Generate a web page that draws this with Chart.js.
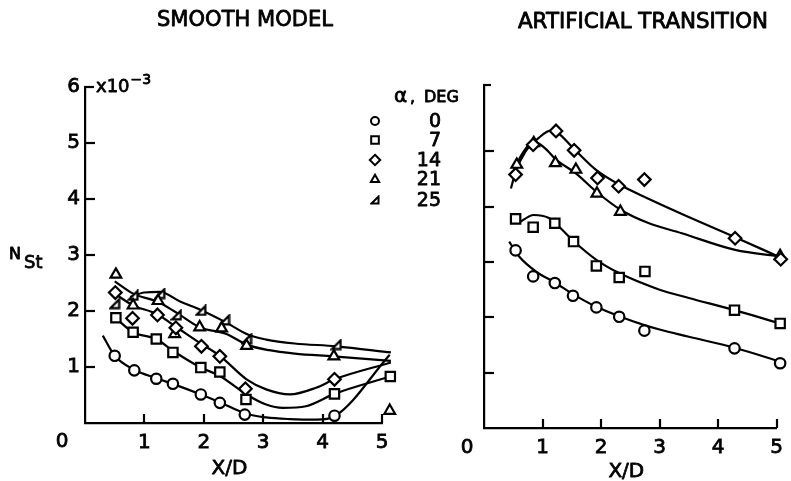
<!DOCTYPE html>
<html>
<head>
<meta charset="utf-8">
<script src="https://cdn.jsdelivr.net/npm/chart.js@4/dist/chart.umd.min.js"></script>
<style>
html,body{margin:0;padding:0;background:#fff;}
#wrap{position:relative;width:791px;height:481px;overflow:hidden;background:#fff;}
canvas{position:absolute;left:0;top:0;}
</style>
</head>
<body>
<div id="wrap">
<canvas id="left" width="791" height="481"></canvas>
<canvas id="right" width="791" height="481"></canvas>
</div>
<script>
// ---------- tick labels & legend ----------
const xTickLabels = ['1', '2', '3', '4', '5'];
const yTickLabels = ['1', '2', '3', '4', '5', '6'];
const alphaDeg = ['0', '7', '14', '21', '25'];
const panelTitles = ['SMOOTH MODEL', 'ARTIFICIAL TRANSITION'];

// ---------- SMOOTH MODEL: measured points (x/D, N_St x1e3) ----------
const smoothA0X  = [0.50, 0.83, 1.20, 1.48, 1.95, 2.27, 2.69, 4.20, 5.15];
const smoothA0Y  = [1.20, 0.94, 0.79, 0.70, 0.51, 0.36, 0.15, 0.13, 1.23];
const smoothA7X  = [0.52, 0.81, 1.20, 1.48, 1.95, 2.27, 2.71, 4.20, 5.14];
const smoothA7Y  = [1.88, 1.62, 1.50, 1.26, 0.99, 0.91, 0.42, 0.52, 0.83];
const smoothA14X = [0.51, 0.80, 1.22, 1.53, 1.96, 2.27, 2.70, 4.20, 5.16];
const smoothA14Y = [2.33, 1.87, 1.93, 1.70, 1.37, 1.19, 0.61, 0.78, 1.08];
const smoothA21X = [0.52, 0.81, 1.23, 1.51, 1.93, 2.30, 2.72, 4.19, 5.13];
const smoothA21Y = [2.65, 2.10, 2.18, 1.59, 1.71, 1.69, 1.38, 1.19, 0.22];
const smoothA25X = [0.50, 0.81, 1.26, 1.54, 1.95, 2.35, 2.72, 4.23];
const smoothA25Y = [2.13, 2.28, 2.31, 1.93, 2.01, 1.84, 1.50, 1.40];

// ---------- SMOOTH MODEL: faired curves ----------
const smoothCurve0X  = [0.30, 0.50, 0.83, 1.20, 1.50, 1.95, 2.27, 2.70, 3.05, 3.45, 3.90, 4.20, 5.13];
const smoothCurve0Y  = [1.56, 1.20, 0.95, 0.80, 0.69, 0.51, 0.37, 0.17, 0.10, 0.07, 0.06, 0.12, 1.22];
const smoothCurve7X  = [0.53, 0.81, 1.20, 1.48, 1.95, 2.27, 2.72, 3.05, 3.33, 3.72, 4.20, 5.14];
const smoothCurve7Y  = [1.86, 1.62, 1.50, 1.29, 0.99, 0.84, 0.51, 0.33, 0.27, 0.30, 0.52, 0.83];
const smoothCurve14X = [0.50, 0.81, 1.20, 1.54, 1.96, 2.27, 2.72, 3.05, 3.45, 3.89, 4.20, 5.15];
const smoothCurve14Y = [2.31, 2.10, 1.95, 1.71, 1.41, 1.20, 0.78, 0.60, 0.51, 0.63, 0.78, 1.08];
const smoothCurve21X = [0.50, 0.81, 1.23, 1.54, 1.93, 2.38, 2.72, 3.10, 3.53, 4.18, 5.15];
const smoothCurve21Y = [2.53, 2.31, 2.16, 1.97, 1.71, 1.59, 1.40, 1.30, 1.24, 1.19, 1.11];
const smoothCurve25X = [0.76, 1.00, 1.26, 1.60, 1.95, 2.35, 2.74, 3.05, 3.53, 4.23, 5.15];
const smoothCurve25Y = [2.25, 2.33, 2.34, 2.17, 2.02, 1.81, 1.58, 1.49, 1.42, 1.37, 1.26];

// ---------- ARTIFICIAL TRANSITION: measured points ----------
const artA0X  = [0.54, 0.84, 1.21, 1.52, 1.92, 2.31, 2.74, 4.28, 5.06];
const artA0Y  = [3.21, 2.74, 2.62, 2.39, 2.18, 2.01, 1.76, 1.44, 1.17];
const artA7X  = [0.54, 0.84, 1.21, 1.53, 1.92, 2.31, 2.75, 4.28, 5.06];
const artA7Y  = [3.78, 3.63, 3.70, 3.37, 2.93, 2.72, 2.83, 2.13, 1.89];
const artA14X = [0.54, 0.84, 1.23, 1.54, 1.94, 2.30, 2.74, 4.29, 5.07];
const artA14Y = [4.58, 5.12, 5.37, 5.02, 4.52, 4.37, 4.49, 3.43, 3.05];
const artA21X = [0.56, 0.85, 1.22, 1.57, 1.93, 2.33, 5.06];
const artA21Y = [4.76, 5.15, 4.79, 4.67, 4.24, 3.91, 3.11];

// ---------- ARTIFICIAL TRANSITION: faired curves ----------
const artCurve0X  = [0.43, 0.60, 0.90, 1.21, 1.52, 1.92, 2.31, 2.74, 3.00, 3.50, 4.28, 5.09];
const artCurve0Y  = [3.37, 3.10, 2.82, 2.63, 2.42, 2.19, 2.02, 1.86, 1.78, 1.65, 1.45, 1.19];
const artCurve7X  = [0.58, 0.85, 1.10, 1.30, 1.53, 1.92, 2.31, 3.00, 3.50, 4.28, 5.09];
const artCurve7Y  = [3.70, 3.85, 3.80, 3.62, 3.38, 3.04, 2.80, 2.50, 2.35, 2.13, 1.88];
const artCurve14X = [0.46, 0.54, 0.71, 0.93, 1.15, 1.23, 1.56, 1.92, 2.31, 2.80, 3.40, 4.29, 5.09];
const artCurve14Y = [4.33, 4.63, 5.00, 5.24, 5.38, 5.36, 5.02, 4.66, 4.40, 4.15, 3.86, 3.45, 3.07];
const artCurve21X = [0.51, 0.66, 0.85, 1.04, 1.23, 1.56, 1.92, 2.34, 2.82, 3.38, 4.29, 5.07];
const artCurve21Y = [4.67, 4.97, 5.18, 5.06, 4.85, 4.61, 4.27, 3.94, 3.70, 3.52, 3.22, 3.10];

// ---------- helpers ----------
const FONT = '"DejaVu Sans", "Liberation Sans", sans-serif';
const TSW = 0.8; // text stroke width, gives the pen-lettered weight
Chart.defaults.font.family = FONT;
Chart.defaults.color = '#000';

const pts = (xs, ys) => xs.map((x, i) => ({ x: x, y: ys[i] }));

function rightTri(size, lw) {
  const c = document.createElement('canvas');
  c.width = size; c.height = size;
  const g = c.getContext('2d');
  const p = lw / 2 + 0.5;
  g.fillStyle = '#fff'; g.strokeStyle = '#000'; g.lineWidth = lw; g.lineJoin = 'miter';
  g.beginPath();
  g.moveTo(size - p, p);
  g.lineTo(size - p, size - p);
  g.lineTo(p, size - p);
  g.closePath();
  g.fill(); g.stroke();
  return c;
}
const triBig = rightTri(12, 2.2);
const triSmall = rightTri(10, 2);

const markerStyles = [
  { pointStyle: 'circle',   radius: 5.2 },
  { pointStyle: 'rect',     radius: 6.6 },
  { pointStyle: 'rectRot',  radius: 6.3 },
  { pointStyle: 'triangle', radius: 6.2 },
  { pointStyle: triBig,     radius: 6 }
];
const legendStyles = [
  { pointStyle: 'circle',   radius: 4 },
  { pointStyle: 'rect',     radius: 5.4 },
  { pointStyle: 'rectRot',  radius: 5.2 },
  { pointStyle: 'triangle', radius: 4.8 },
  { pointStyle: triSmall,   radius: 5 }
];

function markerSet(xs, ys, k) {
  const s = markerStyles[k];
  return {
    data: pts(xs, ys), showLine: false, order: 0, clip: false,
    pointStyle: s.pointStyle, pointRadius: s.radius,
    pointBorderWidth: 2.2, pointBorderColor: '#000', pointBackgroundColor: '#fff'
  };
}
function curveSet(xs, ys) {
  return {
    data: pts(xs, ys), showLine: true, order: 1, clip: false,
    borderColor: '#000', borderWidth: 2.2, pointRadius: 0, fill: false,
    cubicInterpolationMode: 'monotone'
  };
}

function drawMarker(ctx, style, r, x, y, lw) {
  ctx.save();
  ctx.fillStyle = '#fff'; ctx.strokeStyle = '#000'; ctx.lineWidth = lw;
  if (typeof style !== 'string') {
    ctx.drawImage(style, x - style.width / 2, y - style.height / 2);
    ctx.restore(); return;
  }
  ctx.beginPath();
  if (style === 'circle') {
    ctx.arc(x, y, r, 0, Math.PI * 2);
  } else if (style === 'rect') {
    const s = Math.SQRT1_2 * r;
    ctx.rect(x - s, y - s, 2 * s, 2 * s);
  } else if (style === 'rectRot') {
    ctx.moveTo(x, y - r); ctx.lineTo(x + r, y); ctx.lineTo(x, y + r); ctx.lineTo(x - r, y); ctx.closePath();
  } else if (style === 'triangle') {
    for (let i = 0; i < 3; i++) {
      const a = i * 2 * Math.PI / 3;
      const px = x + Math.sin(a) * r, py = y - Math.cos(a) * r;
      if (i === 0) ctx.moveTo(px, py); else ctx.lineTo(px, py);
    }
    ctx.closePath();
  }
  ctx.fill(); ctx.stroke();
  ctx.restore();
}

// filled + lightly stroked text
function txt(ctx, text, x, y) {
  ctx.save();
  ctx.fillStyle = '#000'; ctx.strokeStyle = '#000'; ctx.lineWidth = TSW; ctx.lineJoin = 'round';
  ctx.fillText(text, x, y);
  ctx.strokeText(text, x, y);
  ctx.restore();
}
// text fitted horizontally to a target width
function fitText(ctx, text, cx, cy, font, width) {
  ctx.save();
  ctx.font = font;
  const w = ctx.measureText(text).width;
  ctx.translate(cx, cy);
  ctx.scale(width / w, 1);
  ctx.textAlign = 'center'; ctx.textBaseline = 'middle';
  txt(ctx, text, 0, 0);
  ctx.restore();
}

// decoration plugin: inward ticks, origin label, axis/panel texts
const decor = {
  id: 'decor',
  afterDraw(chart, args, o) {
    const { ctx, chartArea: a, scales } = chart;
    const x = scales.x, y = scales.y;
    ctx.save();
    ctx.strokeStyle = '#000'; ctx.lineWidth = 2.2; ctx.lineCap = 'butt';
    o.yTicks.forEach(v => {
      const py = Math.round(y.getPixelForValue(v));
      ctx.beginPath(); ctx.moveTo(a.left, py); ctx.lineTo(a.left + 10, py); ctx.stroke();
    });
    o.xTicks.forEach(v => {
      const px = Math.round(x.getPixelForValue(v));
      ctx.beginPath(); ctx.moveTo(px, a.bottom); ctx.lineTo(px, a.bottom - 9); ctx.stroke();
    });
    // top corner of the y axis
    ctx.beginPath(); ctx.moveTo(a.left - 1, a.top); ctx.lineTo(a.left + o.corner, a.top); ctx.stroke();

    ctx.textBaseline = 'middle'; ctx.textAlign = 'center';
    ctx.font = '20px ' + FONT;
    txt(ctx, '0', a.left + o.originDx, a.bottom + o.originDy);
    // x axis title, centred on the x scale
    txt(ctx, 'X/D', (x.left + x.right) / 2 - 4, o.xTitleY);

    // panel title
    fitText(ctx, o.title, o.titleX, o.titleY, '21px ' + FONT, o.titleW);

    if (o.extras) o.extras(ctx, a);
    ctx.restore();
  }
};

function leftExtras(ctx, a) {
  ctx.textAlign = 'left'; ctx.textBaseline = 'alphabetic';
  // multiplier
  ctx.font = '18px ' + FONT;
  txt(ctx, 'x10', a.left + 11, a.top + 5);
  const w = ctx.measureText('x10').width;
  ctx.font = '14px ' + FONT;
  txt(ctx, '\u22123', a.left + 12 + w, a.top - 3);
  // y axis title N_St
  ctx.font = '16px ' + FONT;
  txt(ctx, 'N', 9, 259);
  ctx.font = '18px ' + FONT;
  txt(ctx, 'St', 24, 268);
  // legend
  ctx.font = '20px ' + FONT;
  txt(ctx, '\u03b1', 394, 102);
  ctx.font = '16px ' + FONT;
  txt(ctx, ',', 410, 102);
  txt(ctx, 'DEG', 424, 102);
  const rows = [121, 140, 160, 179.5, 200];
  ctx.textAlign = 'right'; ctx.textBaseline = 'middle';
  ctx.font = '19px ' + FONT;
  alphaDeg.forEach((t, i) => {
    const s = legendStyles[i];
    drawMarker(ctx, s.pointStyle, s.radius, 375, rows[i], 2);
    txt(ctx, t, 441, rows[i] + 1);
  });
}

function scaleX(height) {
  return {
    type: 'linear', min: 0, max: 5,
    afterFit: s => { s.height = height; },
    grid: { display: false, drawTicks: false },
    border: { display: true, color: '#000', width: 2.2 },
    ticks: {
      stepSize: 1, padding: 8, maxRotation: 0, autoSkip: false,
      font: { size: 20 }, color: '#000', textStrokeColor: '#000', textStrokeWidth: TSW,
      callback: v => (Number.isInteger(v) && v >= 1) ? xTickLabels[v - 1] : ''
    },
    title: { display: false }
  };
}

// ---------- left chart: SMOOTH MODEL ----------
new Chart(document.getElementById('left'), {
  type: 'scatter',
  data: {
    datasets: [
      markerSet(smoothA0X, smoothA0Y, 0),
      markerSet(smoothA7X, smoothA7Y, 1),
      markerSet(smoothA14X, smoothA14Y, 2),
      markerSet(smoothA21X, smoothA21Y, 3),
      markerSet(smoothA25X, smoothA25Y, 4),
      curveSet(smoothCurve0X, smoothCurve0Y),
      curveSet(smoothCurve7X, smoothCurve7Y),
      curveSet(smoothCurve14X, smoothCurve14Y),
      curveSet(smoothCurve21X, smoothCurve21Y),
      curveSet(smoothCurve25X, smoothCurve25Y)
    ]
  },
  options: {
    responsive: false, animation: false, events: [],
    layout: { padding: { left: 0, top: 87, right: 409, bottom: 0 } },
    plugins: {
      legend: { display: false }, tooltip: { enabled: false },
      decor: {
        yTicks: [1, 2, 3, 4, 5], xTicks: [1, 2, 3, 4, 5], corner: 9,
        originDx: -23, originDy: 19, xTitleY: 469,
        title: panelTitles[0], titleX: 245, titleY: 21, titleW: 176,
        extras: leftExtras
      }
    },
    scales: {
      x: scaleX(58),
      y: {
        type: 'linear', min: 0, max: 6,
        afterFit: s => { s.width = 85; },
        grid: { display: false, drawTicks: false },
        border: { display: true, color: '#000', width: 2.2 },
        ticks: {
          stepSize: 1, padding: 5, font: { size: 20 }, color: '#000',
          textStrokeColor: '#000', textStrokeWidth: TSW,
          callback: v => (Number.isInteger(v) && v >= 1) ? yTickLabels[v - 1] : ''
        }
      }
    }
  },
  plugins: [decor]
});

// ---------- right chart: ARTIFICIAL TRANSITION ----------
new Chart(document.getElementById('right'), {
  type: 'scatter',
  data: {
    datasets: [
      markerSet(artA0X, artA0Y, 0),
      markerSet(artA7X, artA7Y, 1),
      markerSet(artA14X, artA14Y, 2),
      markerSet(artA21X, artA21Y, 3),
      curveSet(artCurve0X, artCurve0Y),
      curveSet(artCurve7X, artCurve7Y),
      curveSet(artCurve14X, artCurve14Y),
      curveSet(artCurve21X, artCurve21Y)
    ]
  },
  options: {
    responsive: false, animation: false, events: [],
    layout: { padding: { left: 0, top: 85, right: 7, bottom: 0 } },
    plugins: {
      legend: { display: false }, tooltip: { enabled: false },
      decor: {
        yTicks: [1, 2, 3, 4, 5], xTicks: [1, 2, 3, 4, 5], corner: 7,
        originDx: -17, originDy: 20, xTitleY: 472,
        title: panelTitles[1], titleX: 643, titleY: 23, titleW: 250
      }
    },
    scales: {
      x: scaleX(53),
      y: {
        type: 'linear', min: 0, max: 6.2,
        afterFit: s => { s.width = 484; },
        grid: { display: false, drawTicks: false },
        border: { display: true, color: '#000', width: 2.2 },
        ticks: { display: false, stepSize: 1 }
      }
    }
  },
  plugins: [decor]
});
</script>
</body>
</html>
